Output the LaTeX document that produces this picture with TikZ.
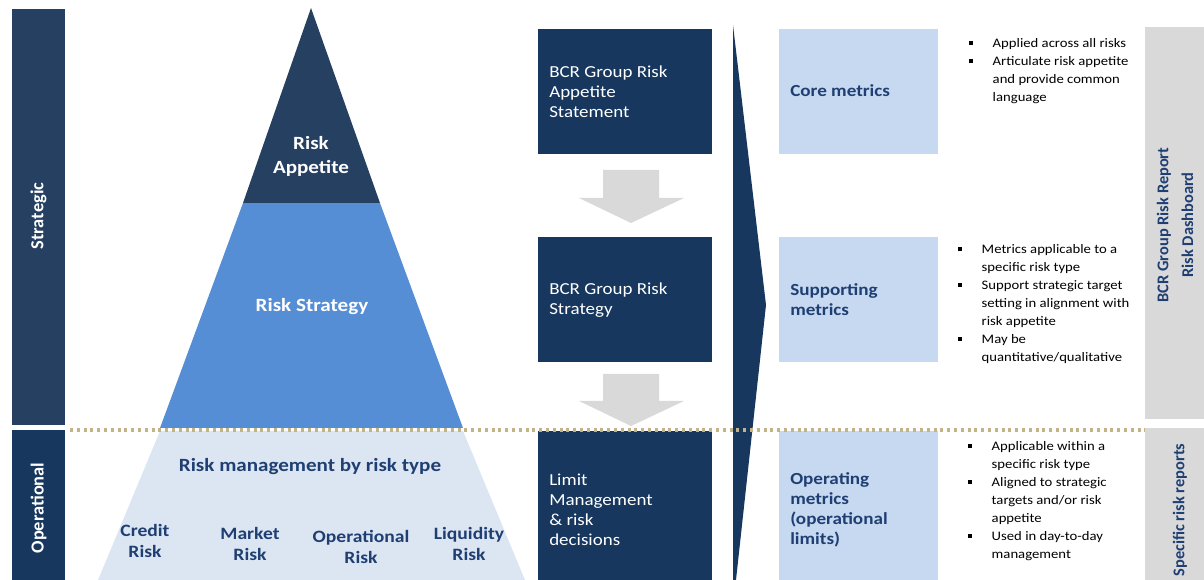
\documentclass[tikz,border=0pt]{standalone}
\usepackage{fontspec}
\setmainfont{Carlito}[FakeStretch=1.13]
\newfontfamily\rotfont{Carlito}
\definecolor{navy}{HTML}{17375E}
\definecolor{slate}{HTML}{264061}
\definecolor{midblue}{HTML}{558ED5}
\definecolor{paleblue}{HTML}{DCE6F2}
\definecolor{lightbox}{HTML}{C6D9F1}
\definecolor{txtblue}{HTML}{1F3F73}
\definecolor{gold}{HTML}{C2B488}
\definecolor{grayfill}{HTML}{D9D9D9}
\newcommand\bsq{\rule[0.22em]{3pt}{3pt}}
\tikzset{
  lbl/.style={inner sep=0pt, align=center, font=\bfseries\fontsize{14}{18}\selectfont},
  sublbl/.style={inner sep=0pt, align=center, text=txtblue, font=\bfseries\fontsize{13}{16}\selectfont},
  boxtxt/.style={inner sep=0pt, anchor=west, align=left, text=white, font=\fontsize{12.6}{15}\selectfont},
  metric/.style={inner sep=0pt, anchor=west, align=left, text=txtblue, font=\bfseries\fontsize{12.7}{15}\selectfont},
  rot/.style={inner sep=0pt, rotate=90, align=center, font=\rotfont\bfseries\fontsize{12.3}{18.5}\selectfont},
  rotbig/.style={rot, font=\rotfont\bfseries\fontsize{13.8}{18.5}\selectfont},
  bullets/.style={inner sep=0pt, anchor=north west, font=\fontsize{9.75}{13.5}\selectfont},
  garrow/.style={fill=grayfill},
}
\begin{document}
\begin{tikzpicture}[x=0.75pt,y=-0.75pt]
\useasboundingbox (0,0) rectangle (1204,580);
% left bars
\fill[slate] (12,9) rectangle (65,425);
\fill[navy] (12,430) rectangle (65,580);
\node[rotbig, text=white] (strat) at (38.5,216) {Strategic};
\node[rotbig, text=white] (oper) at (38.5,508) {Operational};
% pyramid
\fill[paleblue] (160,431) -- (463,431) -- (525,580) -- (98,580) -- cycle;
\fill[midblue] (243,203) -- (380,203) -- (463,428) -- (160,428) -- cycle;
\fill[slate] (311,8) -- (380,203) -- (243,203) -- cycle;
\node[lbl, text=white] (appetite) at (311,156) {Risk\\Appetite};
\node[lbl, text=white] (strategy) at (312,307) {Risk Strategy};
\node[lbl, text=txtblue] (rmrt) at (310,467) {Risk management by risk type};
\node[sublbl] (credit) at (145,541) {Credit\\Risk};
\node[sublbl] (market) at (250,544) {Market\\Risk};
\node[sublbl] (oprisk) at (361,547) {Operational\\Risk};
\node[sublbl] (liq) at (469,544) {Liquidity\\Risk};
% dark boxes
\fill[navy] (538,29) rectangle (712,154);
\fill[navy] (538,237) rectangle (712,362);
\fill[navy] (538,431) rectangle (712,580);
\node[boxtxt] (ras) at (549,92) {BCR Group Risk\\Appetite\\Statement};
\node[boxtxt] (rs) at (549,300) {BCR Group Risk\\Strategy};
\node[boxtxt] (lim) at (549,510) {Limit\\Management\\\& risk\\decisions};
% gray arrows
\fill[garrow] (603,170) -- (659,170) -- (659,198) -- (684,198) -- (631,223) -- (579,198) -- (603,198) -- cycle;
\fill[garrow] (603,374) -- (659,374) -- (659,401) -- (684,401) -- (631,426) -- (579,401) -- (603,401) -- cycle;
% chevron
\fill[navy] (733,25) -- (766,305) -- (736,580) -- (733,580) -- cycle;
% light boxes
\fill[lightbox] (779,29) rectangle (938,154);
\fill[lightbox] (779,237) rectangle (938,362);
\fill[lightbox] (779,431) rectangle (938,580);
\node[metric] (core) at (790,91) {Core metrics};
\node[metric] (supp) at (790,300) {Supporting\\metrics};
\node[metric] (opm) at (790,510) {Operating\\metrics\\(operational\\limits)};
% bullets
\node[bullets] (b1) at (969,35) {\begin{tabular}{@{}p{17.6pt}@{}l@{}}
\bsq & Applied across all risks\\
\bsq & Articulate risk appetite\\
 & and provide common\\
 & language
\end{tabular}};
\node[bullets] (b2) at (958,241) {\begin{tabular}{@{}p{17.6pt}@{}l@{}}
\bsq & Metrics applicable to a\\
 & specific risk type\\
\bsq & Support strategic target\\
 & setting in alignment with\\
 & risk appetite\\
\bsq & May be\\
 & quantitative/qualitative
\end{tabular}};
\node[bullets] (b3) at (968,438) {\begin{tabular}{@{}p{17.6pt}@{}l@{}}
\bsq & Applicable within a\\
 & specific risk type\\
\bsq & Aligned to strategic\\
 & targets and/or risk\\
 & appetite\\
\bsq & Used in day-to-day\\
 & management
\end{tabular}};
% right bars
\fill[grayfill] (1145,27) rectangle (1204,419);
\fill[grayfill] (1145,428) rectangle (1204,580);
\node[rot, text=txtblue] (dash) at (1175,225) {BCR Group Risk Report\\Risk Dashboard};
\node[rot, text=txtblue] (spec) at (1180,510) {Specific risk reports};
% dotted separator
\coordinate (sepL) at (70,430);
\coordinate (sepR) at (1145,430);
\draw[gold, line width=2.3pt, dash pattern=on 2.3pt off 2.8pt] (sepL) -- (sepR);
\end{tikzpicture}
\end{document}
